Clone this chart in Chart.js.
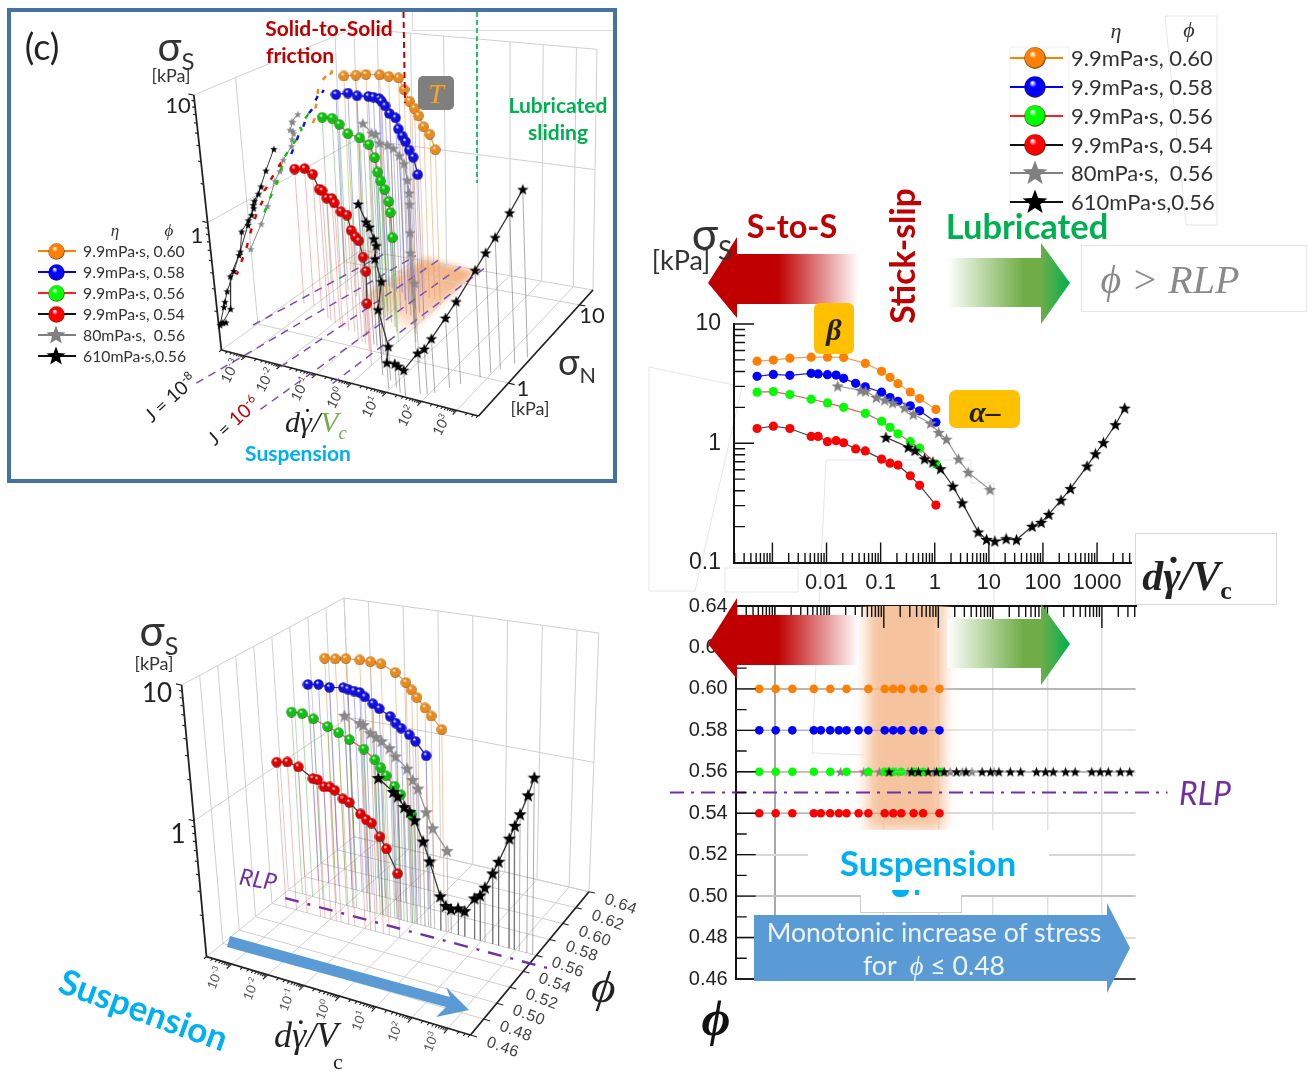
<!DOCTYPE html>
<html>
<head>
<meta charset="utf-8">
<title>Shear stress vs. rate</title>
<script src="https://cdn.jsdelivr.net/npm/chart.js@4"></script>
<style>
  html, body { margin: 0; background: #fff; }
  #page { position: relative; width: 1308px; height: 1072px; overflow: hidden; font-family: Lato, sans-serif; }
  #page canvas.chart { position: absolute; z-index: 2; }
  .t { position: absolute; white-space: pre; transform: translate(-50%, -50%); z-index: 4; line-height: 1; }
  .box { position: absolute; z-index: 3; box-sizing: border-box; }
  .redArrow { position: absolute; left: 708px; width: 151px; height: 81px; z-index: 3;
    clip-path: polygon(0 46px, 29px 0, 29px 17px, 151px 17px, 151px 67px, 29px 67px, 29px 81px);
    background: linear-gradient(to right, #c00000 0, #c00000 70px, #fff 151px); }
  .greenArrow { position: absolute; left: 947px; width: 123px; height: 81px; z-index: 3;
    clip-path: polygon(0 15px, 94px 15px, 94px 0, 123px 40px, 94px 81px, 94px 64px, 0 64px);
    background: linear-gradient(to right, #fff 0, #70ad47 62%, #70ad47 76%, #00b050 100%); }
  sub, sup { font-size: 62%; line-height: 0; }
  .gdot { position: relative; }
  .gdot i { position: absolute; left: 0.08em; top: -0.04em; font-style: normal; }
</style>
</head>
<body>
<div id="page">
  <div class="box" style="left:7px;top:8px;width:610px;height:475px;border:4px solid #47729e"></div>
  <div class="box" style="left:412px;top:12px;width:201px;height:19px;border-left:1px solid #ddd;border-bottom:1px solid #ddd"></div>

  <svg width="1308" height="1072" style="position:absolute;left:0;top:0;z-index:1">
    <defs>
      <linearGradient id="patch" x1="0.75" y1="0.1" x2="0.2" y2="0.95">
        <stop offset="0" stop-color="#f4b183"/><stop offset="0.7" stop-color="#f8cbad" stop-opacity="0.8"/><stop offset="1" stop-color="#fff" stop-opacity="0"/>
      </linearGradient>
      <filter id="soft"><feGaussianBlur stdDeviation="3"/></filter>
    </defs>
    <polygon points="425,258 476,272 402,340 372,336 366,293" fill="url(#patch)" filter="url(#soft)"/>
    <g fill="none" stroke="#e6e6e6" stroke-width="1">
      <polyline points="734,385 649,367 649,591 695,591 742,387"/>
      <rect x="725" y="568" width="73" height="24"/>
      <polyline points="819,606 826,460 971,460 971,483 994,483 994,606"/>
      <polyline points="816,665 812,753 864,755"/>
      <polyline points="1165,16 1217,16 1217,225 1186,225 1165,16"/>
      <rect x="1010" y="47" width="59" height="168" stroke="#f0f0f0"/>
    </g>
  </svg>

  <canvas class="chart" id="stressChart" width="520" height="320" style="left:640px;top:280px"></canvas>
  <canvas class="chart" id="phiChart" width="540" height="430" style="left:640px;top:570px"></canvas>
  <canvas class="chart" id="depthChart" width="1308" height="1072" style="left:0;top:0"></canvas>

  <div class="redArrow" style="top:237px"></div>
  <div class="greenArrow" style="top:243px"></div>
  <div class="redArrow" style="top:598px"></div>
  <div class="greenArrow" style="top:604px"></div>

  <div class="box" style="left:1081px;top:245px;width:226px;height:67px;border:1px solid #e6e6e6;background:#fff"></div>
  <div class="box" style="left:1135px;top:533px;width:142px;height:72px;border:1px solid #d8d8d8;background:#fff"></div>
  <div class="box" style="left:814px;top:303px;width:40px;height:51px;border-radius:6px;background:#ffc000"></div>
  <div class="box" style="left:949px;top:390px;width:71px;height:38px;border-radius:7px;background:#ffc000"></div>
  <div class="box" style="left:418px;top:76px;width:36px;height:34px;border-radius:5px;background:#7f7f7f"></div>

  <div class="box" style="left:808px;top:830px;width:241px;height:65px;background:#fff"></div>
  <div class="box" style="left:860px;top:895px;width:102px;height:18px;background:#fff;border:1px solid #ccc;border-top:0"></div>
  <div class="box" style="left:892px;top:890px;width:17px;height:7px;border-radius:0 0 9px 9px;background:#00b0f0"></div>
  <div class="box" style="left:915px;top:890px;width:4px;height:5px;background:#00b0f0"></div>

  <svg width="1308" height="1072" style="position:absolute;left:0;top:0;z-index:3">
    <polygon points="754,915 1107,915 1107,903 1130,948 1107,993 1107,981 754,981" fill="#5b9bd5"/>
    <polygon points="230,936 450,997 446,987 469,1010 436,1017 446,1007 227,947" fill="#5b9bd5"/>
    <line x1="403.5" y1="12" x2="405" y2="103" stroke="#c00000" stroke-width="2" stroke-dasharray="6 4"/>
    <line x1="477" y1="12" x2="477" y2="183" stroke="#00b050" stroke-width="1.6" stroke-dasharray="5 3"/>
  </svg>
</div>

<script>
// shear rate d*gamma/Vc
const rateShort = [0.00052, 0.00104, 0.0021, 0.0052, 0.0104, 0.0207, 0.052, 0.104, 0.149, 0.209, 0.353, 0.525, 1.05];
const rateLong = [0.00052, 0.00104, 0.0021, 0.0052, 0.007, 0.0104, 0.015, 0.0207, 0.0345, 0.052, 0.104, 0.149, 0.209, 0.353, 0.525, 1.05];
const rateGray = [0.0161, 0.0428, 0.0529, 0.0832, 0.119, 0.167, 0.277, 0.401, 0.838, 1.18, 1.65, 2.75, 4.15, 10.5];
const rateBlack = [0.125, 0.324, 0.431, 0.649, 0.925, 1.28, 2.16, 3.22, 6.35, 9.06, 12.9, 20.9, 32.4, 63.1, 92.5, 128, 216, 322, 653, 931, 1310, 2180, 3240];

// shear stress [kPa]
const stressOrange = [4.88, 4.98, 5.17, 5.27, 5.27, 5.24, 4.67, 4.01, 3.57, 3.16, 2.69, 2.37, 1.92];
const stressBlue = [3.64, 3.78, 3.71, 3.86, 3.81, 3.76, 3.73, 3.5, 3.18, 2.97, 2.68, 2.42, 2.25, 2.06, 1.87, 1.5];
const stressGreen = [2.68, 2.71, 2.56, 2.34, 2.18, 2.0, 1.78, 1.53, 1.36, 1.2, 1.03, 0.91, 0.67];
const stressRed = [1.33, 1.39, 1.33, 1.14, 1.14, 1.03, 1.05, 1.01, 0.897, 0.863, 0.736, 0.681, 0.656, 0.534, 0.444, 0.303];
const stressGray = [3.02, 2.78, 2.73, 2.42, 2.3, 2.18, 1.98, 1.75, 1.47, 1.23, 1.08, 0.736, 0.57, 0.408];
const stressBlack = [1.12, 0.926, 0.869, 0.74, 0.695, 0.611, 0.436, 0.316, 0.18, 0.156, 0.151, 0.158, 0.155, 0.201, 0.217, 0.253, 0.333, 0.416, 0.643, 0.815, 1.01, 1.43, 1.97];

// normal stress [kPa]
const normalOrange = [8.55, 8.97, 8.95, 9.06, 8.85, 8.79, 7.2, 6.38, 6.27, 6.12, 5.69, 5.69, 5.0];
const normalBlue = [6.98, 7.3, 7.1, 6.8, 6.9, 6.9, 6.4, 6.2, 5.7, 5.7, 4.7, 4.5, 4.3, 3.85, 3.65, 3.1];
const normalGreen = [4.9, 4.88, 4.5, 3.97, 4.12, 3.99, 3.25, 2.65, 2.47, 2.38, 2.14, 1.89, 1.47];
const normalRed = [2.36, 2.35, 2.2, 1.82, 1.75, 1.68, 1.66, 1.56, 1.5, 1.49, 1.24, 1.19, 1.14, 1.01, 0.91, 0.67];
const normalGray = [3.86, 3.33, 3.4, 3.15, 3.36, 3.41, 3.26, 3.18, 2.56, 2.32, 2.03, 1.62, 1.35, 0.99];
const normalBlack = [1.45, 1.2, 1.16, 1.09, 1.0, 0.83, 0.77, 0.57, 0.53, 0.425, 0.457, 0.41, 0.394, 0.453, 0.47, 0.51, 0.63, 0.74, 0.98, 1.16, 1.34, 1.67, 2.09];

// constant J lines on the floor of panel (c): rate and normal stress at the two ends
const jLineRates = [[0.00017, 0.00107], [0.00053, 0.0081], [0.0107, 0.0437], [0.051, 0.28], [0.39, 1.28]];
const jLineNormals = [[0.94, 15.5], [0.13, 17.3], [0.365, 17.3], [0.105, 17.3], [0.335, 17.3]];

const legendNames = ['9.9mPa·s, 0.60', '9.9mPa·s, 0.58', '9.9mPa·s, 0.56', '9.9mPa·s, 0.54', '80mPa·s,  0.56', '610mPa·s,0.56'];
const rateTicks = [0.01, 0.1, 1, 10, 100, 1000];
const stressTicks = [0.1, 1, 10];
const phiTicks = [0.46, 0.48, 0.5, 0.52, 0.54, 0.56, 0.58, 0.6, 0.62, 0.64];
const rlpPhi = 0.55;

Chart.defaults.font.family = 'Lato, sans-serif';
Chart.defaults.animation = false;

function sphere(color, d) {
  const c = document.createElement('canvas');
  c.width = c.height = d;
  const g = c.getContext('2d');
  const r = d / 2;
  const grad = g.createRadialGradient(r * 0.75, r * 0.6, r * 0.05, r, r, r);
  grad.addColorStop(0, '#ffffff');
  grad.addColorStop(0.3, color);
  grad.addColorStop(0.85, color);
  grad.addColorStop(1, 'rgba(40,20,0,0.9)');
  g.fillStyle = grad;
  g.beginPath();
  g.arc(r, r, r - 0.3, 0, Math.PI * 2);
  g.fill();
  return c;
}

function star(color, d) {
  const c = document.createElement('canvas');
  c.width = c.height = d;
  const g = c.getContext('2d');
  const r = d / 2;
  g.fillStyle = color;
  g.beginPath();
  for (let i = 0; i < 10; i++) {
    const rad = i % 2 ? r * 0.42 : r;
    const a = -Math.PI / 2 + i * Math.PI / 5;
    g.lineTo(r + rad * Math.cos(a), r + 0.5 + rad * Math.sin(a));
  }
  g.closePath();
  g.fill();
  return c;
}

const seriesTable = [
  { rate: rateShort, stress: stressOrange, normal: normalOrange, phi: 0.60, color: '#ff8000', ball: '#e88a1c', line: '#f0a060', drop: 'rgba(230,150,70,0.5)', wall: '#e88a1c' },
  { rate: rateLong, stress: stressBlue, normal: normalBlue, phi: 0.58, color: '#0000ff', ball: '#1010e0', line: '#2020e0', drop: 'rgba(70,70,220,0.42)', wall: '#1010e0' },
  { rate: rateGray, stress: stressGray, normal: normalGray, phi: 0.56, color: '#808080', ball: null, line: '#999999', drop: 'rgba(120,120,120,0.45)', wall: '#8a8a8a' },
  { rate: rateShort, stress: stressGreen, normal: normalGreen, phi: 0.56, color: '#00ff00', ball: '#10c010', line: '#e06060', drop: 'rgba(60,170,60,0.42)', wall: '#10c010' },
  { rate: rateLong, stress: stressRed, normal: normalRed, phi: 0.54, color: '#ff0000', ball: '#e00000', line: '#444444', drop: 'rgba(215,70,70,0.36)', wall: '#e00000' },
  { rate: rateBlack, stress: stressBlack, normal: normalBlack, phi: 0.56, color: '#000000', ball: null, line: '#333333', drop: 'rgba(70,70,70,0.45)', wall: '#333333' }
];

// tick marks that sit inside the axes, major ones longer
const innerTicks = {
  id: 'innerTicks',
  afterDatasetsDraw(chart, args, opts) {
    const g = chart.ctx;
    const { x, y } = chart.scales;
    g.save();
    g.strokeStyle = '#111';
    g.lineWidth = 1.4;
    g.beginPath();
    const ax = opts.xBase === 'top' ? y.top : y.bottom;
    const dir = opts.xBase === 'top' ? 1 : -1;
    opts.xMajor.forEach(v => { const p = x.getPixelForValue(v); g.moveTo(p, ax); g.lineTo(p, ax + dir * opts.xLong); });
    opts.xMinor.forEach(v => { const p = x.getPixelForValue(v); g.moveTo(p, ax); g.lineTo(p, ax + dir * opts.xShort); });
    opts.yMajor.forEach(v => { const p = y.getPixelForValue(v); g.moveTo(x.left, p); g.lineTo(x.left + 20, p); });
    opts.yMinor.forEach(v => { const p = y.getPixelForValue(v); g.moveTo(x.left, p); g.lineTo(x.left + 11, p); });
    g.stroke();
    g.restore();
  }
};

// the soft orange band of the phi panel: above the grid, below the points
const bandPlugin = {
  id: 'band',
  beforeDatasetsDraw(chart) {
    const g = chart.ctx;
    const { x, y } = chart.scales;
    const left = x.getPixelForValue(0.05), right = x.getPixelForValue(1.25);
    const top = y.getPixelForValue(0.64), bottom = y.getPixelForValue(0.532);
    g.save();
    g.beginPath();
    g.rect(x.left, top, x.right - x.left, y.bottom - top);
    g.clip();
    g.filter = 'blur(7px)';
    g.fillStyle = '#f5c39e';
    g.fillRect(left, top - 20, right - left, bottom - top + 20);
    g.restore();
  }
};

function logTicks(from, to) {
  const out = [];
  for (let d = from; d <= to; d++) for (let m = 2; m <= 9; m++) out.push(m * Math.pow(10, d));
  return out;
}
const rateMajor = [1e-3, 1e-2, 1e-1, 1, 10, 100, 1000];
const rateMin = Math.pow(10, -3.71);
const rateMax = Math.pow(10, 3.64);
const rateMinor = logTicks(-4, 3).filter(v => v > rateMin && v < rateMax);

// ---- sigma_S against rate
const topSets = seriesTable.map(s => ({
  data: s.rate.map((r, i) => ({ x: r, y: s.stress[i] })),
  borderColor: s.line,
  borderWidth: 1.2,
  showLine: true,
  pointStyle: s.ball ? 'circle' : star(s.color, 13),
  pointRadius: s.ball ? 4.6 : 6,
  pointBackgroundColor: s.color,
  pointBorderWidth: 0
})).reverse();

new Chart(document.getElementById('stressChart'), {
  type: 'scatter',
  data: { datasets: topSets },
  plugins: [innerTicks],
  options: {
    responsive: false,
    layout: { autoPadding: false, padding: { top: 44, right: 28.3, left: 0, bottom: 0 } },
    plugins: {
      legend: { display: false }, tooltip: { enabled: false },
      innerTicks: { xBase: 'bottom', xLong: 20, xShort: 9.5, xMajor: rateMajor, xMinor: rateMinor, yMajor: [1, 10], yMinor: logTicks(-1, 0) }
    },
    scales: {
      x: {
        type: 'logarithmic', min: rateMin, max: rateMax,
        afterFit: s => { s.height = 37.5; },
        afterBuildTicks: s => { s.ticks = rateTicks.map(v => ({ value: v })); },
        grid: { display: false, drawTicks: false },
        border: { color: '#111', width: 2 },
        ticks: { autoSkip: false, maxRotation: 0, padding: 7, color: '#222', font: { family: 'Liberation Sans', size: 22 }, callback: v => String(v) }
      },
      y: {
        type: 'logarithmic', min: 0.1, max: 10,
        afterFit: s => { s.width = 94; },
        afterBuildTicks: s => { s.ticks = stressTicks.map(v => ({ value: v })); },
        grid: { display: false, drawTicks: false },
        border: { color: '#111', width: 2 },
        ticks: { autoSkip: false, padding: 13, color: '#222', font: { family: 'Liberation Sans', size: 23 }, callback: v => String(v) }
      }
    }
  }
});

// ---- phi against rate
const phiGrid = { '0.46': '#444', '0.48': '#ddd', '0.50': '#c4c4c4', '0.52': '#d8d8d8', '0.54': '#dcdcdc', '0.56': '#cfcfcf', '0.58': '#e6e6e6', '0.60': '#b8b8b8', '0.62': 'rgba(0,0,0,0)', '0.64': '#222' };
const phiSets = seriesTable.map(s => ({
  data: s.rate.map(r => ({ x: r, y: s.phi })),
  borderColor: s.ball ? s.line + '55' : '#aaaaaa',
  borderWidth: 1,
  showLine: true,
  pointStyle: s.ball ? 'circle' : star(s.color, 11),
  pointRadius: s.ball ? 4.3 : 5,
  pointBackgroundColor: s.color,
  pointBorderWidth: 0
}));
phiSets.push({
  data: [{ x: 1.2e-5, y: rlpPhi }, { x: 16000, y: rlpPhi }],
  borderColor: '#7030a0', borderWidth: 2, borderDash: [14, 7, 3, 7], showLine: true, pointRadius: 0, clip: false
});
phiSets.reverse();

new Chart(document.getElementById('phiChart'), {
  type: 'scatter',
  data: { datasets: phiSets },
  plugins: [bandPlugin, innerTicks],
  options: {
    responsive: false,
    layout: { autoPadding: false, padding: { top: 20, right: 44.4, left: 0, bottom: 21 } },
    plugins: {
      legend: { display: false }, tooltip: { enabled: false },
      innerTicks: { xBase: 'top', xLong: 22, xShort: 11, xMajor: rateMajor, xMinor: rateMinor, yMajor: phiTicks, yMinor: [0.47, 0.49, 0.51, 0.53, 0.55, 0.57, 0.59, 0.61, 0.63] }
    },
    scales: {
      x: {
        type: 'logarithmic', position: 'top', min: Math.pow(10, -3.716), max: Math.pow(10, 3.618),
        afterFit: s => { s.height = 16; },
        afterBuildTicks: s => { s.ticks = [1e-3, 1e-1, 1, 10, 100, 1000].map(v => ({ value: v })); },
        grid: { drawTicks: false, color: c => (c.tick.value === 1e-3 ? '#a8a8a8' : '#dedede'), lineWidth: c => (c.tick.value === 1e-3 ? 2 : 1.4) },
        border: { color: '#111', width: 2 },
        ticks: { display: false }
      },
      y: {
        min: 0.46, max: 0.64,
        afterFit: s => { s.width = 95.7; },
        afterBuildTicks: s => { s.ticks = phiTicks.map(v => ({ value: v })); },
        grid: { drawTicks: false, color: c => phiGrid[c.tick.value.toFixed(2)], lineWidth: 2 },
        border: { color: '#111', width: 2 },
        ticks: { autoSkip: false, padding: 8, color: '#222', font: { family: 'Liberation Sans', size: 20 }, callback: v => v.toFixed(2) }
      }
    }
  }
});

// ---- the two perspective boxes: a box is the eight corners of its frame on the page,
// values go through project() and land on a hidden page sized scale
const boxC = {
  bottom: [[221.4, 350], [478.5, 416], [593, 290], [361, 250]],
  top: [[193.8, 95], [462, 140], [597, 49.3], [353.9, 28.3]],
  depth: n => (Math.log10(n) + 0.42) / 1.61
};
const boxPhi = {
  bottom: [[206.5, 956.7], [470.5, 1035], [589, 891.7], [353.8, 836.7]],
  top: [[181.6, 685], [465, 743], [598.7, 633], [344, 598]],
  depth: p => (p - 0.46) / 0.18
};
const uMin = -3.7, uSpan = 7.32;

function bilinear(q, u, v) {
  const fx = q[0][0] + u * (q[1][0] - q[0][0]), fy = q[0][1] + u * (q[1][1] - q[0][1]);
  const bx = q[3][0] + u * (q[2][0] - q[3][0]), by = q[3][1] + u * (q[2][1] - q[3][1]);
  return [fx + v * (bx - fx), fy + v * (by - fy)];
}
// u and v run 0..1 across the floor, w 0..1 up the box
function cornerMix(box, u, v, w) {
  const b = bilinear(box.bottom, u, v), t = bilinear(box.top, u, v);
  return { x: b[0] + w * (t[0] - b[0]), y: b[1] + w * (t[1] - b[1]) };
}
function project(box, rate, depthValue, stress) {
  return cornerMix(box, (Math.log10(rate) - uMin) / uSpan, box.depth(depthValue), (Math.log10(stress) + 1) / 2);
}
const gap = { x: NaN, y: NaN };
function segs(list) {
  const out = [];
  list.forEach(s => { out.push(...s, gap); });
  return out;
}
const lineSet = (data, color, width, dash) => ({ data, borderColor: color, borderWidth: width, borderDash: dash || [], showLine: true, pointRadius: 0, spanGaps: false });

function frameSets(box, uLines, vLines) {
  const m = (u, v, w) => cornerMix(box, u, v, w);
  const light = [];
  uLines.forEach(u => {
    light.push([m(u, 1, 0), m(u, 1, 1)]);
    light.push([m(u, 0, 0), m(u, 1, 0)]);
  });
  vLines.forEach(v => {
    light.push([m(0, v, 0), m(0, v, 1)]);
    light.push([m(0, v, 0), m(1, v, 0)]);
  });
  light.push([m(0, 0, 0.5), m(0, 1, 0.5)], [m(0, 1, 0.5), m(1, 1, 0.5)]);
  light.push([m(0, 0, 1), m(0, 1, 1)], [m(0, 1, 1), m(1, 1, 1)], [m(1, 1, 1), m(1, 1, 0)], [m(0, 1, 1), m(0, 1, 0)], [m(0, 0, 0), m(0, 1, 0)], [m(0, 1, 0), m(1, 1, 0)]);
  const dark = [[m(0, 0, 0), m(1, 0, 0)], [m(1, 0, 0), m(1, 1, 0)], [m(0, 0, 0), m(0, 0, 1)]];
  const ticks = [];
  rateMajor.forEach(r => { const u = (Math.log10(r) - uMin) / uSpan; ticks.push([m(u, 0, 0), m(u, -0.035, 0)]); });
  rateMinor.forEach(r => { const u = (Math.log10(r) - uMin) / uSpan; ticks.push([m(u, 0, 0), m(u, -0.017, 0)]); });
  vLines.forEach(v => ticks.push([m(1, v, 0), m(1.025, v, 0)]));
  [1, 10].forEach(s => { const w = (Math.log10(s) + 1) / 2; ticks.push([m(0, 0, w), m(-0.02, 0, w)]); });
  logTicks(-1, 0).forEach(s => { const w = (Math.log10(s) + 1) / 2; ticks.push([m(0, 0, w), m(-0.011, 0, w)]); });
  return [lineSet(segs(light), '#cfcfcf', 1), lineSet(segs(dark), '#222222', 1.8), lineSet(segs(ticks), '#222222', 1.1)];
}

function seriesSets(box, depthOf, sphereD, starD) {
  const out = [];
  seriesTable.forEach(s => {
    const pts = s.rate.map((r, i) => project(box, r, depthOf(s, i), s.stress[i]));
    const feet = s.rate.map((r, i) => project(box, r, depthOf(s, i), 0.1));
    out.push(lineSet(segs(pts.map((p, i) => [p, feet[i]])), s.drop, 1));
    out.push({
      data: pts, borderColor: s.line, borderWidth: 1.3, showLine: true,
      pointStyle: s.ball ? sphere(s.ball, sphereD) : star(s.color === '#000000' ? '#000' : '#888', starD), pointRadius: 5
    });
  });
  return out;
}

const depthSets = [];
// panel (c)
depthSets.push(...frameSets(boxC, [-3, -2, -1, 0, 1, 2, 3].map(l => (l - uMin) / uSpan), [boxC.depth(1), boxC.depth(10)]));
jLineRates.forEach((r, i) => {
  depthSets.push(lineSet([project(boxC, r[0], jLineNormals[i][0], 0.1), project(boxC, r[1], jLineNormals[i][1], 0.1)], '#7a4fb0', 1.5, [8, 6]));
});
// shadows of the curves on the left wall of panel (c)
seriesTable.forEach(s => {
  const wall = s.normal.map((n, i) => project(boxC, Math.pow(10, uMin), n, s.stress[i]));
  if (s.ball) depthSets.push(lineSet(wall, s.wall, 2.4, [5, 10]));
  else depthSets.push({ data: wall, borderColor: s.wall, borderWidth: 1, showLine: true, pointStyle: star(s.color === '#000000' ? '#000' : '#888', 8), pointRadius: 4 });
});
depthSets.push(...seriesSets(boxC, (s, i) => s.normal[i], 11, 12));
// lower left panel
depthSets.push(...frameSets(boxPhi, [-3, -2, -1, 0, 1, 2, 3].map(l => (l - uMin) / uSpan), phiTicks.map(p => boxPhi.depth(p))));
depthSets.push(lineSet([project(boxPhi, 0.00028, rlpPhi, 0.1), project(boxPhi, 20000, rlpPhi, 0.1)], '#7030a0', 2.4, [14, 9, 3, 9]));
depthSets.push(...seriesSets(boxPhi, s => s.phi, 11, 14));
depthSets.reverse();

new Chart(document.getElementById('depthChart'), {
  type: 'scatter',
  data: { datasets: depthSets },
  options: {
    responsive: false,
    layout: { autoPadding: false, padding: 0 },
    plugins: { legend: { display: false }, tooltip: { enabled: false } },
    scales: {
      x: { type: 'linear', display: false, min: 0, max: 1308 },
      y: { type: 'linear', display: false, min: 0, max: 1072, reverse: true }
    }
  }
});

// ---- text
const page = document.getElementById('page');
function put(html, x, y, css, rot) {
  const d = document.createElement('div');
  d.className = 't';
  d.innerHTML = html;
  d.style.cssText = `left:${x}px;top:${y}px;${css || ''}` + (rot ? `;transform:translate(-50%,-50%) rotate(${rot}deg)` : '');
  page.appendChild(d);
  return d;
}
const red = 'color:#c00000;font-weight:700;';
const green = 'color:#00b050;font-weight:700;';
const cyan = 'color:#00b0f0;font-weight:700;';
const serif = 'font-family:Liberation Serif;font-style:italic;';
const ink = 'color:#222;';
const rateLabel = 'd<span class="gdot">&#947;<i>&#729;</i></span>/V';

function legend(cx, x0, x1, tx, ys, size, d, starD) {
  const lineColors = ['#ff8000', '#0000ff', '#ff2020', '#111111', '#808080', '#111111'];
  const marks = [sphere('#ff8000', d), sphere('#0000ff', d), sphere('#00ff00', d), sphere('#ff0000', d), star('#808080', starD), star('#000000', starD)];
  ys.forEach((y, i) => {
    const ln = document.createElement('div');
    ln.className = 'box';
    ln.style.cssText = `left:${x0}px;top:${y - 1}px;width:${x1 - x0}px;height:2px;background:${lineColors[i]}`;
    page.appendChild(ln);
    const m = marks[i];
    m.style.cssText = `position:absolute;z-index:4;left:${cx - m.width / 2}px;top:${y - m.height / 2}px`;
    page.appendChild(m);
    put(legendNames[i], tx, y, `transform:translate(0,-50%);font-size:${size}px;color:#333`);
  });
}
legend(1035, 1010, 1063, 1071, [58, 87, 116, 145, 173, 202], 22, 22, 26);
legend(56, 38, 76, 83, [251, 272, 293, 314, 335, 356], 15.8, 17, 20);

put('&#951;', 1116, 31, serif + 'font-size:22px;color:#333');
put('&#981;', 1189, 30, serif + 'font-size:22px;color:#333');
put('&#951;', 115, 230, serif + 'font-size:17px;color:#333');
put('&#981;', 169, 230, serif + 'font-size:17px;color:#333');

// upper right panel
put('&#963;<sub style="font-size:60%">S</sub>', 712, 233, 'font-size:44px;color:#333');
put('[kPa]', 681, 259, 'font-size:27px;color:#333');
put('S-to-S', 792, 226, red + 'font-size:32.5px');
put('Stick-slip', 903, 256, red + 'font-size:33.5px', -90);
put('Lubricated', 1027, 226, green + 'font-size:34.5px');
put('&#981; &gt; RLP', 1170, 280, serif + 'font-size:40px;color:#8a8a8a');
put('&#946;', 834, 330, serif + 'font-weight:700;font-size:30px;color:#222');
put('&#945;&#8211;', 985, 412, serif + 'font-weight:700;font-size:30px;color:#222');
put(rateLabel + '<sub style="font-style:normal">c</sub>', 1187, 576, serif + 'font-weight:700;font-size:42px;color:#222');

// phi panel
put('RLP', 1205, 793, 'font-style:italic;font-size:32px;color:#7030a0');
put('Suspension', 928, 862, cyan + 'font-size:35px');
put('Monotonic increase of stress', 934, 932, 'font-size:26.6px;color:#eef4fb');
put('for  <span style="font-family:Liberation Serif;font-style:italic">&#981;</span> &#8804; 0.48', 934, 966, 'font-size:26.6px;color:#eef4fb');
put('&#981;', 716, 1018, serif + 'font-weight:700;font-size:50px;color:#111');

// panel (c)
put('(c)', 42, 46, 'font-size:36px;' + ink);
put('&#963;<sub style="font-size:60%">S</sub>', 176, 46, 'font-size:40px;color:#333');
put('[kPa]', 171, 75, 'font-size:18px;color:#333');
put('10', 178, 105, 'font-size:22px;' + ink);
put('1', 197, 235, 'font-size:22px;' + ink);
put('Solid-to-Solid', 329, 27, red + 'font-size:21px');
put('friction', 300, 54, red + 'font-size:21px');
put('T', 436, 94, serif + 'font-size:28px;color:#f5a623');
put('Lubricated', 558, 104, green + 'font-size:21px');
put('sliding', 558, 131, green + 'font-size:21px');
put('&#963;<sub style="font-size:60%">N</sub>', 577, 361, 'font-size:36px;color:#333');
put('10', 592, 315, 'font-size:22px;' + ink);
put('1', 523, 388, 'font-size:22px;' + ink);
put('[kPa]', 530, 408, 'font-size:18px;color:#333');
put('d<span class="gdot">&#947;<i>&#729;</i></span>/<span style="color:#70ad47">V<sub>c</sub></span>', 316, 422, serif + 'font-size:30px;color:#222');
put('Suspension', 298, 452, cyan + 'font-size:21px');
put('J = 10<sup>-8</sup>', 170, 397, 'font-size:19px;' + ink, -42);
put('J = <span style="color:#c00000">10<sup>-6</sup></span>', 233, 420, 'font-size:19px;' + ink, -42);

// lower left panel
put('&#963;<sub style="font-size:60%">S</sub>', 159, 630, 'font-size:42px;color:#333');
put('[kPa]', 154, 663, 'font-size:18px;color:#333');
put('10', 157, 692, 'font-size:26px;' + ink);
put('1', 178, 833, 'font-size:26px;' + ink);
put('RLP', 258, 879, 'font-style:italic;font-size:23px;color:#7030a0', 10);
put('Suspension', 144, 1009, cyan + 'font-size:35px', 20);
put('&#981;', 604, 987, serif + 'font-size:46px;color:#222', 8);
put(rateLabel, 306, 1035, serif + 'font-size:36px;color:#222');
put('c', 338, 1062, 'font-family:Liberation Serif;font-size:22px;color:#222');

// rotated tick labels on the two boxes
[-3, -2, -1, 0, 1, 2, 3].forEach(l => {
  const u = (l - uMin) / uSpan;
  const p = cornerMix(boxC, u, 0, 0);
  put(`10<sup>${l}</sup>`, p.x - 16, p.y + 15, 'font-size:14px;color:#444', -62);
  const q = cornerMix(boxPhi, u, 0, 0);
  put(`10<sup>${l}</sup>`, q.x - 17, q.y + 14, 'font-size:13px;color:#555', -68);
});
phiTicks.forEach(p => {
  const q = cornerMix(boxPhi, 1, boxPhi.depth(p), 0);
  put(p.toFixed(2), q.x + 32, q.y + 12, 'font-family:Liberation Sans;font-size:16px;letter-spacing:0.6px;color:#444', 20);
});
</script>
</body>
</html>
